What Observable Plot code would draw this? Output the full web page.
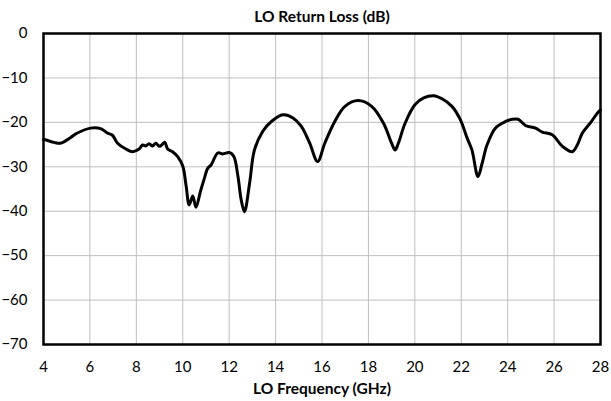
<!DOCTYPE html>
<html>
<head>
<meta charset="utf-8">
<script src="https://cdn.jsdelivr.net/npm/d3@7"></script>
<script src="https://cdn.jsdelivr.net/npm/@observablehq/plot@0.6"></script>
<style>
  html, body { margin: 0; padding: 0; background: #fff; }
  #chart svg { display: block; }
</style>
</head>
<body>
<div id="chart"></div>
<script>
const title = "LO Return Loss (dB)";
const xLabel = "LO Frequency (GHz)";
const xTicks = [4, 6, 8, 10, 12, 14, 16, 18, 20, 22, 24, 26, 28];
const yTicks = [0, -10, -20, -30, -40, -50, -60, -70];

const freqGHz = [
  4.0, 4.45, 4.73, 5.17, 5.46, 6.03, 6.46, 6.75, 6.97, 7.19, 7.55, 7.84, 8.12, 8.27, 8.41, 8.55, 8.70, 8.84, 8.99, 9.09, 9.23,
  9.35, 9.56, 9.78, 10.0, 10.14, 10.28, 10.43, 10.57, 10.76, 10.93, 11.08, 11.22, 11.51, 11.73, 12.01, 12.2, 12.38, 12.52,
  12.66, 12.88, 13.09, 13.45, 13.82, 14.32, 14.75, 15.11, 15.47, 15.81, 16.12, 16.55, 16.99, 17.56, 18.14, 18.65, 19.0,
  19.15, 19.29, 19.58, 20.01, 20.38, 20.81, 21.17, 21.6, 21.96, 22.25, 22.46, 22.72, 22.9, 23.11, 23.47, 23.91, 24.19,
  24.45, 24.77, 25.2, 25.49, 25.92, 26.36, 26.79, 27.0, 27.22, 27.58, 27.87, 28.0
];
const returnLossDb = [
  -23.8, -24.5, -24.7, -23.4, -22.4, -21.3, -21.4, -22.4, -22.9, -24.7, -26.0, -26.6, -26.0, -25.1, -25.3, -24.8, -25.3, -24.7, -25.4, -25.1, -24.5,
  -26.0, -26.6, -27.7, -29.8, -34.1, -38.6, -36.6, -39.1, -35.6, -32.6, -30.3, -29.6, -26.9, -27.1, -26.8, -27.7, -32.2, -37.5,
  -40.1, -33.7, -26.2, -22.0, -19.8, -18.3, -19.0, -20.9, -24.7, -28.8, -24.7, -19.8, -16.4, -15.1, -16.4, -20.2, -24.7,
  -26.2, -24.7, -20.2, -16.0, -14.5, -14.0, -14.7, -16.4, -19.4, -23.5, -26.2, -32.2, -29.2, -25.1, -21.3, -19.8, -19.3,
  -19.3, -20.7, -21.3, -22.2, -22.8, -25.4, -26.6, -25.1, -22.4, -20.0, -17.9, -17.2
];

const data = freqGHz.map((f, i) => ({f, db: returnLossDb[i]}));
const font = "Lato, 'Open Sans', sans-serif";

const chart = Plot.plot({
  width: 611,
  height: 401,
  marginLeft: 43,
  marginRight: 11,
  marginTop: 33,
  marginBottom: 57,
  style: {fontFamily: font, fontSize: "15px", color: "#000", background: "#fff"},
  x: {domain: [4, 28], ticks: xTicks, label: null},
  y: {domain: [-70, 0], ticks: yTicks, label: null},
  marks: [
    Plot.gridX(xTicks, {stroke: "#bfbfbf", strokeOpacity: 1, strokeWidth: 1}),
    Plot.gridY(yTicks, {stroke: "#bfbfbf", strokeOpacity: 1, strokeWidth: 1}),
    Plot.axisX({ticks: xTicks, tickSize: 0, tickPadding: 17, fontSize: 15, label: null}),
    Plot.axisY({ticks: yTicks, tickSize: 0, tickPadding: 16, fontSize: 15, label: null}),
    Plot.line(data, {x: "f", y: "db", stroke: "#000", strokeWidth: 3, curve: "catmull-rom"}),
    Plot.frame({stroke: "#000", strokeWidth: 2.5}),
    Plot.text([title], {frameAnchor: "top", lineAnchor: "middle", dy: -16, fontWeight: "bold", fontSize: 15.5}),
    Plot.text([xLabel], {frameAnchor: "bottom", lineAnchor: "middle", dy: 45, fontWeight: "bold", fontSize: 15.5})
  ]
});
document.getElementById("chart").append(chart);
</script>
</body>
</html>
